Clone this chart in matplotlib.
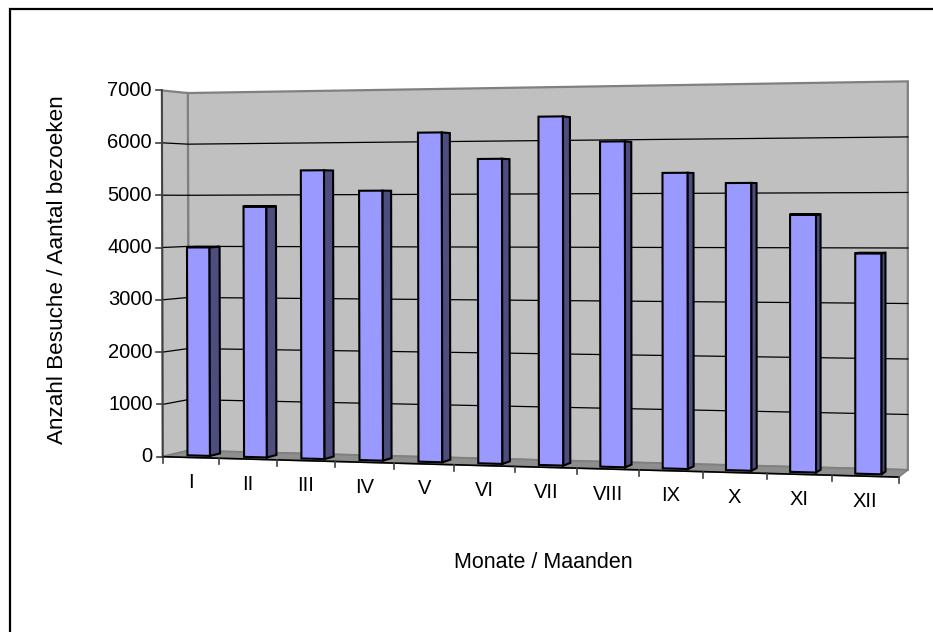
import numpy as np
import matplotlib.pyplot as plt
from matplotlib.patches import Polygon

plt.rcParams['font.family'] = ['Liberation Sans', 'DejaVu Sans']

months = ['I', 'II', 'III', 'IV', 'V', 'VI', 'VII', 'VIII', 'IX', 'X', 'XI', 'XII']
visits = [4000, 4780, 5460, 5070, 6150, 5650, 6420, 5950, 5370, 5180, 4610, 3920]
y_ticks = [0, 1000, 2000, 3000, 4000, 5000, 6000, 7000]
y_label = 'Anzahl Besuche / Aantal bezoeken'
x_label = 'Monate / Maanden'

# 3d frame: x = category slot, V = value / 1000, d = depth (0 front, 1 back wall)
# anchor points of the chart box on the page, used to fit a pinhole camera
frame_3d = np.array([
    [0, 0, 0], [0, 7, 0], [12, 0, 0],
    [1, 0, 0], [2, 0, 0], [3, 0, 0], [4, 0, 0],
    [8, 0, 0], [9, 0, 0], [10, 0, 0], [11, 0, 0],
    [0, 1, 0], [0, 2, 0], [0, 3, 0], [0, 4, 0], [0, 5, 0], [0, 6, 0],
    [0, 0, 1], [0, 7, 1], [0, 6, 1],
    [12, 0, 1], [12, 7, 1], [12, 6, 1],
], float)
frame_px = np.array([
    [163, 457], [162, 91], [898, 477],
    [220, 458.5], [278, 460.1], [336, 461.7], [394, 463.3],
    [640, 470], [702, 471.7], [767, 473.4], [832, 475.2],
    [162, 404], [162, 352.7], [162, 299], [162, 246.7], [162, 195], [162, 142.7],
    [188, 450], [188, 93], [188, 145],
    [908, 470], [908, 81], [908, 137],
], float)


def fit_camera(pts3, pts2):
    s3 = np.array([12.0, 7.0, 1.0])
    c2 = np.array([466.0, 316.0])
    q = pts3 / s3
    w = (pts2 - c2) / c2
    rows = []
    for (X, Y, Z), (u, v) in zip(q, w):
        rows.append([X, Y, Z, 1, 0, 0, 0, 0, -u * X, -u * Y, -u * Z, -u])
        rows.append([0, 0, 0, 0, X, Y, Z, 1, -v * X, -v * Y, -v * Z, -v])
    P = np.linalg.svd(np.array(rows))[2][-1].reshape(3, 4)

    def proj(x, V, d):
        h = P @ np.array([x / 12.0, V / 7.0, d, 1.0])
        return c2[0] * (1 + h[0] / h[2]), c2[1] * (1 + h[1] / h[2])
    return proj


proj = fit_camera(frame_3d, frame_px)


def poly(pts3):
    return np.array([proj(*p) for p in pts3])


def signed_area(p):
    x, y = p[:, 0], p[:, 1]
    return 0.5 * np.sum(x * np.roll(y, -1) - np.roll(x, -1) * y)


fig = plt.figure(figsize=(9.33, 6.32), dpi=100)
ax = fig.add_axes([0, 0, 1, 1])
ax.set_xlim(0, 933)
ax.set_ylim(632, 0)
ax.axis('off')

# outer frame (only left and top edges are on the page)
ax.plot([10, 10, 933], [632, 9, 9], color='black', lw=1.6, solid_joinstyle='miter', zorder=10)

wall_c = '#c0c0c0'
edge_c = '#808080'
n_cat = len(months)
vmax = y_ticks[-1] / 1000

# walls and floor
back = poly([(0, 0, 1), (n_cat, 0, 1), (n_cat, vmax, 1), (0, vmax, 1)])
side = poly([(0, 0, 0), (0, 0, 1), (0, vmax, 1), (0, vmax, 0)])
floor = poly([(0, 0, 0), (n_cat, 0, 0), (n_cat, 0, 1), (0, 0, 1)])
ax.add_patch(Polygon(back, closed=True, fc=wall_c, ec=edge_c, lw=1.6, zorder=1))
ax.add_patch(Polygon(side, closed=True, fc=wall_c, ec=edge_c, lw=1.6, zorder=1))
ax.add_patch(Polygon(floor, closed=True, fc='#8e8e8e', ec=edge_c, lw=1.2, zorder=1))

# gridlines on side and back wall
for t in y_ticks[1:-1]:
    V = t / 1000
    g = poly([(0, V, 0), (0, V, 1), (n_cat, V, 1)])
    ax.plot(g[:, 0], g[:, 1], color='black', lw=0.9, zorder=2)

# value axis line, ticks and labels
a = poly([(0, 0, 0), (0, vmax, 0)])
ax.plot(a[:, 0], a[:, 1], color='#404040', lw=1.3, zorder=3)
for t in y_ticks:
    px, py = proj(0, t / 1000, 0)
    ax.plot([px - 6, px], [py, py], color='#404040', lw=1.2, zorder=3)
    ax.text(px - 10, py, str(t), ha='right', va='center', fontsize=14.5, zorder=3)

# category axis: front edge, ticks and labels
f = poly([(0, 0, 0), (n_cat, 0, 0)])
ax.plot(f[:, 0], f[:, 1], color='black', lw=1.2, zorder=3)
for i in range(n_cat + 1):
    px, py = proj(i, 0, 0)
    ax.plot([px, px], [py, py + 6], color='#404040', lw=1.2, zorder=3)
for i, m in enumerate(months):
    px, py = proj(i + 0.5, 0, 0)
    ax.text(px, py + 25, m, ha='center', va='center', fontsize=14.5, zorder=3)

# 3d columns
front_c = '#9999ff'
dark_c = '#4d4d80'
top_c = '#7777cc'
for i, val in enumerate(visits):
    x0, x1 = i + 0.3, i + 0.7
    d0, d1 = 0.3, 0.7
    V = val / 1000
    faces = [
        ([(x0, 0, d0), (x1, 0, d0), (x1, V, d0), (x0, V, d0)], (0, 0, -1), front_c),
        ([(x0, 0, d1), (x1, 0, d1), (x1, V, d1), (x0, V, d1)], (0, 0, 1), front_c),
        ([(x0, 0, d0), (x0, 0, d1), (x0, V, d1), (x0, V, d0)], (-1, 0, 0), dark_c),
        ([(x1, 0, d0), (x1, 0, d1), (x1, V, d1), (x1, V, d0)], (1, 0, 0), dark_c),
        ([(x0, V, d0), (x1, V, d0), (x1, V, d1), (x0, V, d1)], (0, 1, 0), top_c),
    ]
    ref_sign = None
    for pts, n, col in faces:
        P3 = np.array(pts, float)
        cr = np.cross(P3[1] - P3[0], P3[2] - P3[0])
        if np.dot(cr, n) < 0:
            P3 = P3[::-1]
        p2 = poly(P3)
        s = np.sign(signed_area(p2))
        if ref_sign is None:
            ref_sign = s
        if s == ref_sign:
            ax.add_patch(Polygon(p2, closed=True, fc=col, ec='black', lw=1.5,
                                 joinstyle='miter', zorder=5))

# axis titles
ax.text(58, 270, y_label, rotation=90, ha='center', va='center', fontsize=16.2)
ax.text(543, 562, x_label, ha='center', va='center', fontsize=15.5)

fig.savefig('out.png', dpi=100)
